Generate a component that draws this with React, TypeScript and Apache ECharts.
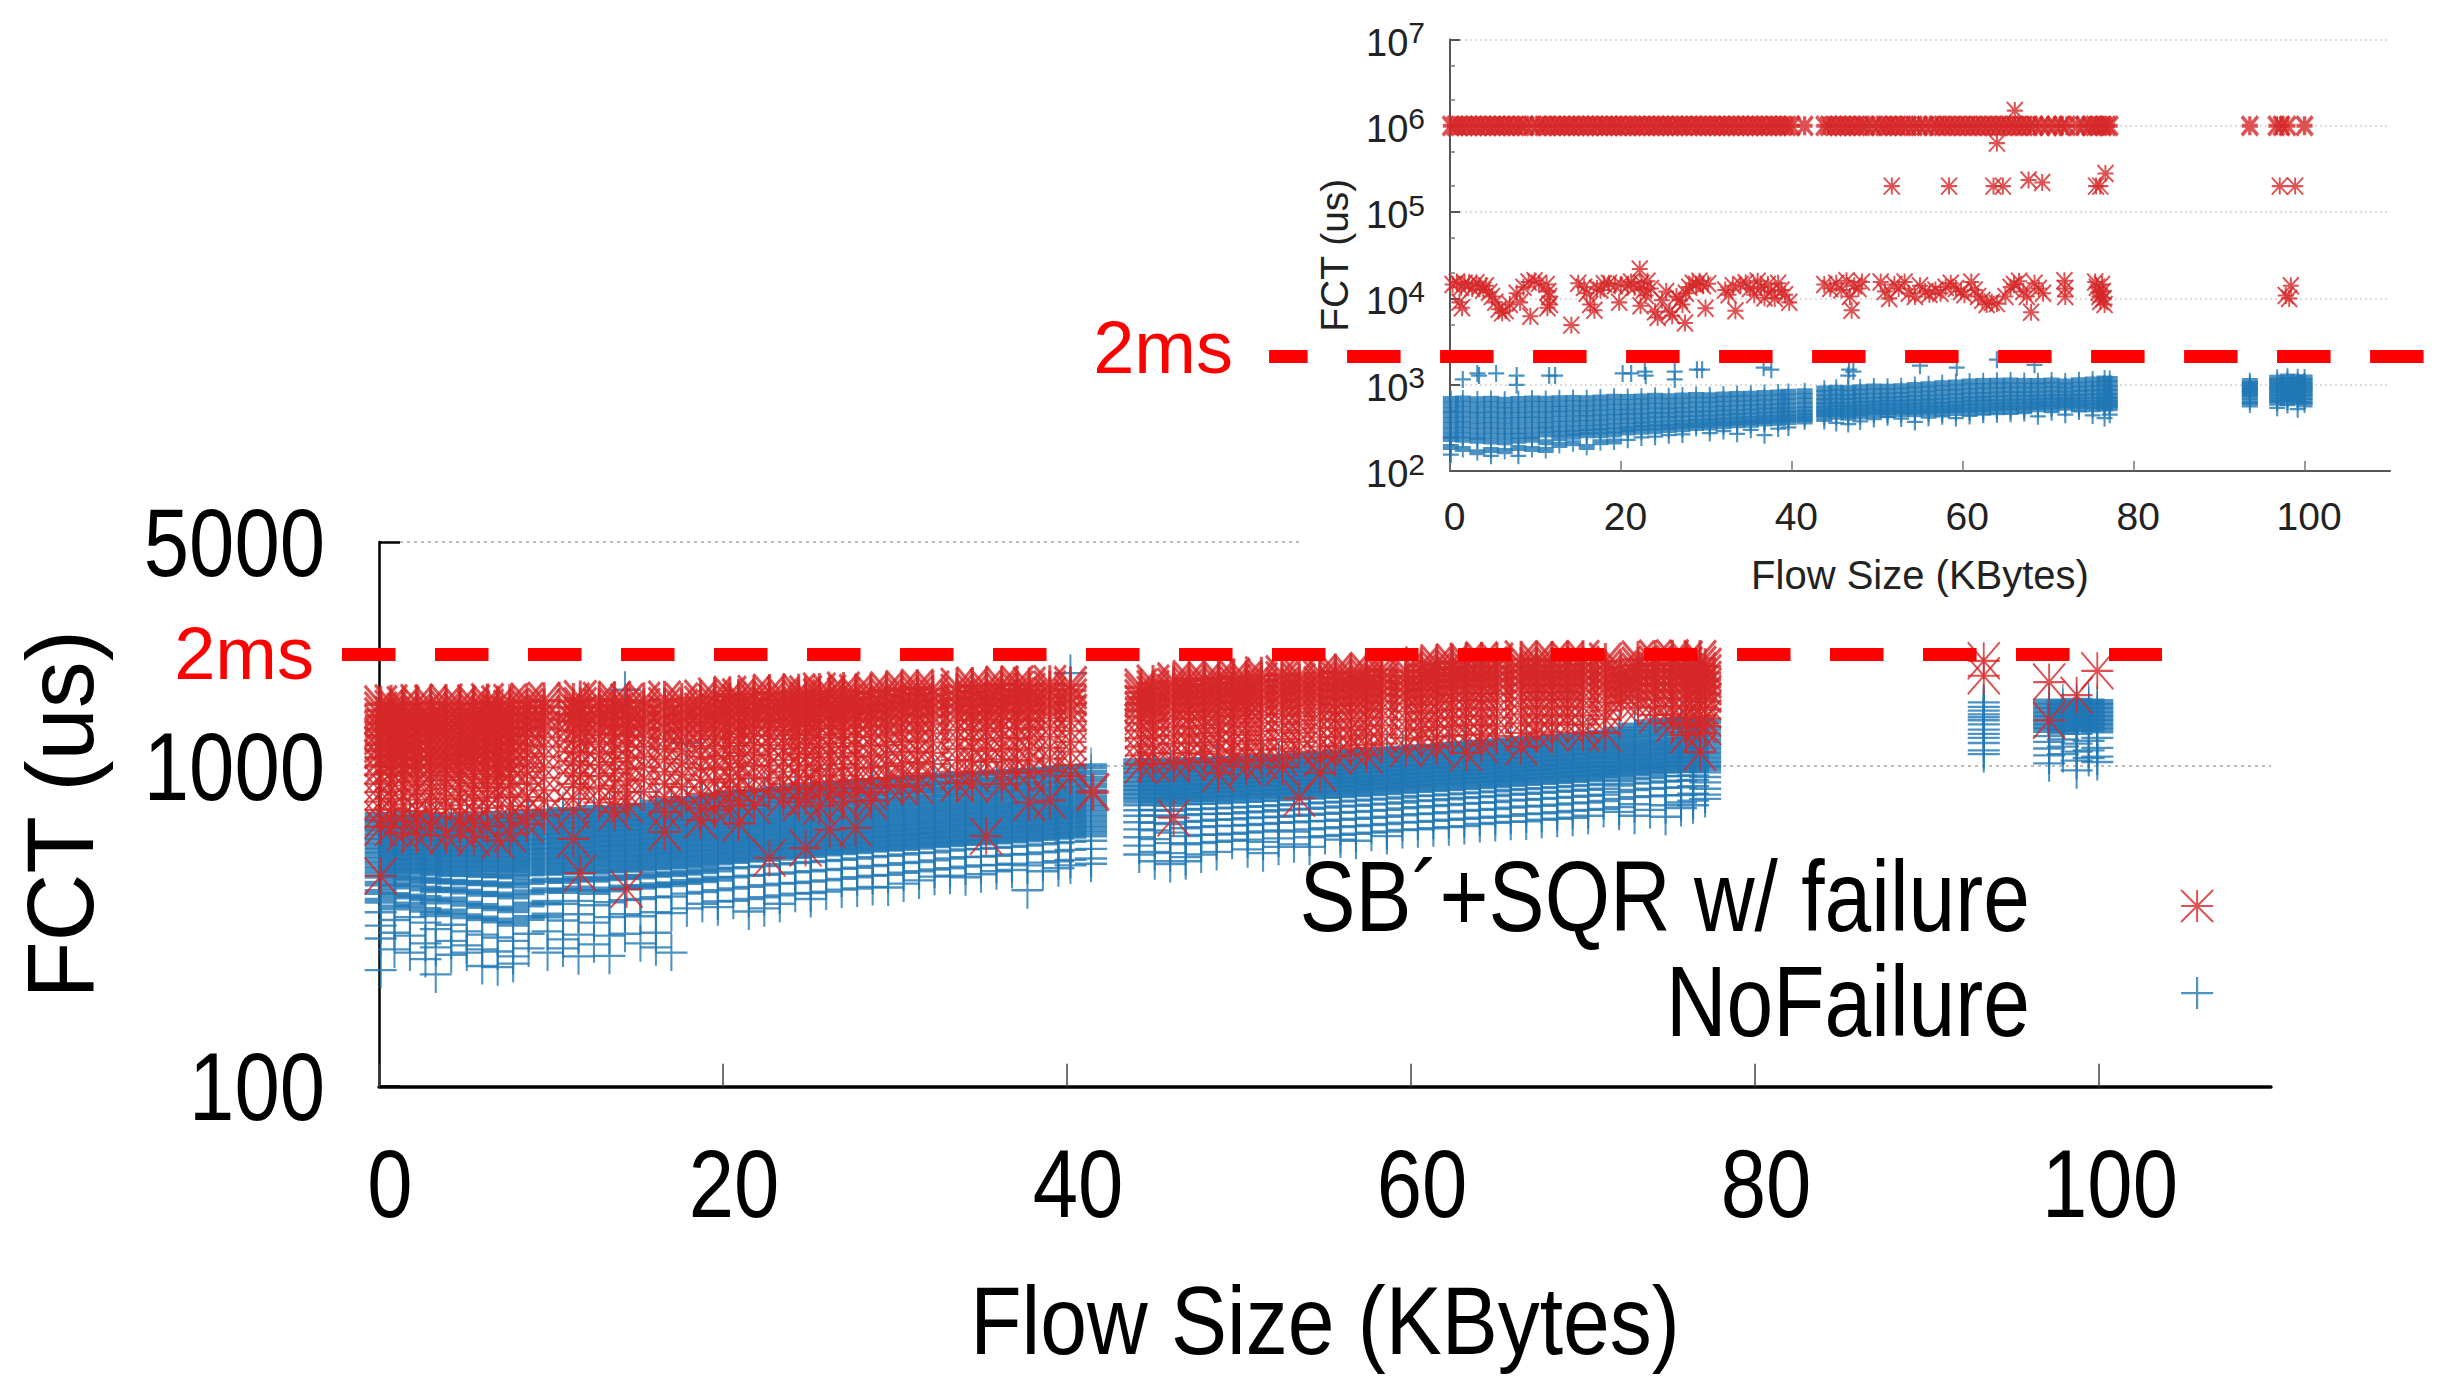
import React, { useEffect, useRef } from "react";
import * as echarts from "echarts";

const RED = "#d62728";
const BLUE = "#1f77b4";
const SANS = "'Liberation Sans',sans-serif";
const STAR = "path://M0 0L100 100M100 0L0 100M0 50H100M50 0V100";
const CROSS = "path://M0 50H100M50 0V100";
const CROSS_BAR = "path://M0 42H100V58H0ZM48 0H52V100H48Z";
const CROSS_BAR_INSET = "path://M0 32H100V68H0ZM44 0H56V100H44Z";

const xTicks = [0, 20, 40, 60, 80, 100];
const mainYTicks = [100, 1000, 5000];
const insetYTicks = [100, 1000, 10000, 100000, 1000000, 10000000];
const insetMinorTicks = [200, 500, 2000, 5000, 20000, 50000, 200000, 500000, 2000000, 5000000];
const failureName = "SB´+SQR w/ failure";
const noFailureName = "NoFailure";
const thresholdLabel = "2ms";
const mainThreshold = { fromX: -2.15, toX: 103.66, value: 2227 };
const insetThreshold = { fromX: -21.17, toX: 114.4, value: 2122 };

// Main plot, NoFailure: each row is [flow size, FCT, FCT, ...]
const noFailureLeft = [
  [0.1,705,680,662,640,622,601,583,562,545,528,510,492,474,455,430,405,380,350,318,290,231],
  [0.9,690,668,650,629,610,590,572,553,536,518,500,483,466,447,421,396,362,331,302,268],
  [1.8,712,684,661,645,618,597,579,560,540,522,505,487,470,449,428,392,370,338,296,262],
  [2.7,695,672,655,633,614,594,575,556,539,520,503,485,468,442,415,388,356,325,280,250],
  [3.3,700,678,657,636,616,596,577,558,537,519,499,481,463,438,410,378,345,310,272,224],
  [4.2,688,666,648,627,608,589,570,551,533,515,497,478,460,436,412,384,352,320,285,258],
  [5.1,702,676,654,631,612,592,574,555,535,517,498,480,461,433,406,372,340,305,276,262],
  [6.0,692,670,651,630,609,591,571,552,534,514,496,477,457,431,400,366,335,298,268,238],
  [6.9,710,682,660,638,617,595,576,557,538,516,495,476,456,428,398,360,330,292,264,236],
  [7.8,698,675,653,632,611,590,573,554,532,513,494,474,452,424,392,355,322,285,255,242],
  [8.7,716,688,664,642,620,598,580,560,541,521,502,482,462,435,404,370,336,300,270],
  [9.8,722,696,670,648,625,603,584,563,544,524,504,484,465,440,410,375,342,305,262],
  [10.7,730,702,676,652,630,607,587,566,546,526,506,486,466,438,408,372,330,288,270],
  [11.6,726,700,678,655,632,609,590,568,548,528,508,488,470,445,415,380,345,298,255],
  [12.5,740,712,686,660,637,614,593,572,551,531,511,490,468,442,405,368,325,278],
  [13.4,735,708,684,662,639,616,595,574,553,533,513,492,472,447,412,376,338,296,256],
  [14.3,748,716,690,666,642,620,598,576,556,535,515,495,475,450,418,382,345,300,1730],
  [15.2,752,722,694,670,646,623,601,579,559,538,518,498,478,452,420,385,340,280],
  [16.1,770,738,708,680,655,630,607,585,564,543,523,503,483,458,425,390,350,302,272],
  [17.0,778,746,716,688,662,637,613,590,568,547,527,507,486,460,428,392,348,262],
  [17.9,790,756,724,694,668,642,618,595,572,551,530,510,490,465,435,400,360,1180],
  [18.8,800,766,732,702,674,648,623,599,577,555,534,514,494,470,440,405,372],
  [19.7,812,778,742,710,682,655,630,605,582,560,540,520,500,476,445,410,378,363],
  [20.6,825,788,752,720,690,662,636,611,588,566,546,526,506,480,450,415,380],
  [21.5,832,796,760,726,696,668,642,616,593,570,550,530,510,484,455,420,385,352],
  [22.4,840,802,766,732,702,674,648,622,598,576,555,534,514,488,458,425,390,360],
  [23.3,850,812,776,740,710,680,654,628,604,581,560,540,518,494,462,430,395,372],
  [24.2,858,820,782,748,716,686,659,633,609,586,565,545,524,498,466,432,400],
  [25.1,866,826,788,752,720,690,663,637,613,590,570,550,528,502,470,436,402,385],
  [26.0,875,835,796,760,728,698,670,644,620,596,575,555,534,506,474,440,406],
  [26.9,882,842,802,766,732,702,675,648,624,600,578,558,538,510,478,445,412],
  [27.8,890,848,808,772,738,708,680,654,629,605,583,562,542,515,482,450,415],
  [28.7,898,856,816,778,745,714,686,660,635,611,590,570,548,520,488,455,420],
  [29.6,905,862,822,784,750,720,692,665,640,616,595,574,552,525,492,458,418],
  [30.5,915,870,830,792,758,726,698,670,645,620,600,578,555,530,498,465,430],
  [31.4,920,876,836,798,764,732,703,676,650,626,605,582,560,535,502,470,440],
  [32.3,928,884,842,804,770,738,710,682,656,632,610,588,566,538,508,476,452],
  [33.2,935,890,850,812,776,745,715,688,662,636,615,592,570,545,515,480,455],
  [34.1,940,896,856,818,782,750,720,692,666,642,618,596,575,550,520,486,450],
  [35.0,948,904,862,824,788,756,726,698,672,648,622,600,578,552,522,490,460],
  [35.9,955,910,868,830,794,760,732,704,678,652,628,605,582,556,525,492,470],
  [36.8,960,915,874,836,800,766,736,708,682,657,632,610,586,560,530,496,474],
  [37.7,968,922,880,842,806,772,742,714,688,662,638,615,590,565,532,490,410],
  [38.6,975,930,888,848,812,778,748,720,694,668,644,620,596,570,538,500,470],
  [39.5,985,938,896,856,820,786,754,726,700,674,650,626,602,575,542,505,480],
  [40.2,992,945,902,862,826,792,760,732,706,680,655,630,606,580,548,510,490,1950],
  [41.4,1000,955,912,872,834,800,768,740,712,686,660,636,612,585,552,515,496],
];
const noFailureRight = [
  [44.2,1035,1000,968,938,908,880,855,830,806,780,755,728,700,668,635,600,565,530],
  [45.1,1040,1005,972,942,912,884,858,832,808,782,758,730,702,665,630,592,540,505],
  [46.0,1030,998,966,936,906,878,852,828,804,778,752,725,695,660,620,575,535,495],
  [46.9,1045,1010,976,945,916,888,862,835,810,785,760,732,704,670,640,605,570,520,505],
  [47.8,1040,1008,976,948,918,890,864,838,812,788,762,735,708,675,645,610,575,530],
  [48.7,1050,1015,982,950,922,894,868,842,816,790,765,738,710,680,650,612,580,540],
  [49.6,1055,1020,988,956,926,898,872,845,820,795,770,742,712,682,652,615,585],
  [50.5,1062,1026,992,960,930,902,876,850,825,800,774,746,718,688,655,620,590,550],
  [51.4,1060,1030,996,964,934,906,880,854,828,804,778,750,722,692,660,625,580,535],
  [52.3,1070,1034,1000,968,938,910,884,858,832,808,782,755,728,695,665,630,595,560],
  [53.2,1078,1040,1006,974,944,916,890,864,838,812,788,760,732,700,668,625,570],
  [54.1,1085,1048,1012,980,950,920,894,868,842,816,792,765,736,705,672,635,600,560],
  [55.0,1095,1056,1020,986,955,926,898,872,846,820,796,770,742,710,675,640,605],
  [55.9,1102,1062,1026,992,960,930,902,876,850,825,800,775,748,715,680,645,610,590],
  [56.8,1110,1070,1032,998,966,936,908,882,856,830,806,780,752,720,685,650,615,585],
  [57.7,1118,1078,1040,1006,974,944,916,890,864,838,812,786,758,725,690,655,620],
  [58.6,1125,1084,1046,1012,980,950,922,896,870,844,818,792,764,730,695,660,625,605],
  [59.5,1135,1092,1054,1018,986,956,928,902,876,850,824,798,770,738,702,666,632],
  [60.4,1145,1102,1062,1026,994,964,936,910,884,858,832,806,778,744,708,670,635],
  [61.3,1150,1108,1070,1034,1000,970,942,914,888,862,836,810,782,750,712,675,640],
  [62.2,1165,1120,1080,1042,1008,976,948,920,894,868,842,816,788,756,718,680,645],
  [63.1,1175,1130,1088,1050,1016,984,954,926,900,874,848,822,795,762,725,685,650],
  [64.0,1185,1140,1096,1058,1022,990,960,932,906,880,854,828,800,768,730,690,660],
  [64.9,1195,1148,1104,1066,1030,996,966,938,912,886,860,834,806,772,735,695,665],
  [65.8,1205,1158,1114,1074,1038,1004,974,946,920,894,868,842,814,780,742,700,670],
  [66.7,1215,1166,1122,1082,1046,1012,980,952,926,900,874,848,820,785,748,708,672],
  [67.6,1222,1174,1130,1090,1052,1018,988,960,932,906,880,854,826,790,752,712,680],
  [68.5,1235,1184,1138,1098,1060,1026,995,966,938,912,886,860,832,796,758,718,685],
  [69.4,1246,1194,1148,1106,1068,1034,1002,972,944,918,892,866,838,802,765,725,690],
  [70.3,1258,1204,1158,1114,1076,1040,1008,978,950,924,898,872,844,808,770,730,700],
  [71.2,1270,1216,1168,1124,1084,1048,1016,986,958,932,906,880,850,815,778,735],
  [72.1,1300,1245,1195,1150,1108,1070,1036,1005,976,950,924,898,870,830,790,745,720],
  [73.0,1340,1280,1225,1175,1130,1090,1055,1020,990,962,936,910,882,842,800,760,700],
  [73.9,1370,1305,1245,1190,1145,1105,1068,1032,1000,972,945,918,888,850,805,730],
  [74.8,1385,1320,1260,1205,1158,1116,1078,1042,1010,982,955,930,895,855,810,755,695],
  [75.7,1390,1325,1265,1210,1162,1120,1082,1048,1015,985,958,932,900,858,812,770,740],
  [76.4,1395,1330,1270,1215,1165,1124,1086,1050,1018,988,960,935,905,865,820,780,755],
  [77.1,1380,1315,1258,1205,1160,1118,1080,1044,1012,984,956,925,890,850,815,790],
];
const noFailureEndA = [
  [93.3,1580,1530,1490,1450,1420,1390,1350,1300,1260,1225,1180,1120,1090],
];
const noFailureEndB = [
  [97.1,1590,1540,1495,1450,1410,1370,1330,1295,1240,1190,1135,1080,1020],
  [97.9,1580,1530,1480,1440,1400,1360,1320,1280,1210,1150,1090],
  [98.7,1600,1560,1510,1470,1425,1385,1345,1305,1260,1175,1110,1040,970],
  [99.4,1590,1545,1500,1460,1415,1375,1335,1300,1200,1120,1060],
  [99.9,1585,1540,1495,1450,1410,1370,1330,1290,1225,1140,1070,1030],
];

// Main plot, SB´+SQR w/ failure
const failureLeft = [
  [0.1,1560,1490,1430,1360,1300,1240,1170,1120,1060,1000,940,880,830,775,730,680,645,454],
  [0.7,1570,1510,1445,1390,1320,1260,1200,1135,1075,1010,955,900,845,790,735,645],
  [1.4,1550,1480,1420,1355,1295,1230,1165,1105,1050,990,930,870,815,760,700,620],
  [2.2,1575,1500,1440,1375,1310,1250,1190,1130,1065,1005,950,895,840,785,725,670,610],
  [3.0,1565,1495,1425,1365,1305,1245,1180,1115,1055,995,935,875,820,770,715,640],
  [3.9,1580,1515,1450,1385,1325,1265,1205,1140,1080,1020,960,905,850,790,735,608],
  [4.7,1555,1485,1415,1350,1290,1225,1160,1100,1045,985,925,865,810,755,690,630],
  [5.5,1570,1505,1435,1370,1315,1255,1195,1125,1070,1015,945,885,835,780,720,665,600],
  [6.3,1585,1520,1455,1395,1330,1270,1210,1150,1090,1030,965,910,855,795,740,650],
  [6.9,1560,1490,1420,1360,1300,1235,1175,1110,1050,990,925,860,800,588],
  [7.6,1575,1510,1445,1380,1315,1250,1185,1125,1060,1000,940,880,815,750,690,615],
  [8.6,1590,1525,1460,1390,1320,1240,1160,1095,1020,960,880,800,730,660],
  [9.6,1600,1530,1465,1400,1310,1230,1150,1070,990,920,840,780,700],
  [11.3,1590,1520,1450,1380,1290,1200,1110,1035,950,880,790,730,593],
  [11.7,1620,1540,1460,1370,1280,1190,1100,1010,930,860,464],
  [12.8,1600,1530,1470,1400,1320,1250,1170,1090,1010,930,850,770],
  [13.7,1610,1545,1475,1410,1340,1260,1185,1105,1030,950,870,790,720],
  [14.4,1580,1500,1420,1330,1240,1150,1060,980,900,830,760,413],
  [15.4,1600,1530,1460,1390,1310,1230,1150,1070,990,910,830],
  [16.6,1615,1540,1465,1385,1305,1215,1130,1050,960,880,800,720,623],
  [17.6,1590,1520,1440,1360,1280,1195,1110,1020,940,860,775],
  [18.7,1625,1555,1480,1405,1320,1240,1155,1070,985,905,820,740,678],
  [19.5,1650,1580,1510,1440,1365,1290,1215,1135,1055,975,890,810,730],
  [20.4,1670,1600,1530,1460,1385,1310,1230,1155,1075,990,910,830,750],
  [20.9,1640,1570,1500,1420,1340,1260,1180,1100,1020,940,860,780,663],
  [21.8,1680,1610,1535,1465,1390,1315,1240,1160,1080,1000,915,835,755],
  [22.7,1695,1620,1550,1475,1400,1320,1245,1165,1085,1005,920,840,517],
  [23.5,1665,1595,1525,1450,1375,1295,1215,1130,1045,960,880,795],
  [24.4,1700,1630,1555,1480,1405,1330,1250,1170,1090,1005,925,845,770],
  [24.8,1675,1600,1530,1455,1380,1300,1220,1140,1060,970,885,800,555],
  [25.6,1710,1640,1565,1490,1410,1335,1255,1175,1095,1010,930,850,750],
  [26.2,1685,1610,1535,1460,1385,1305,1225,1145,1065,980,895,810,633],
  [27.0,1720,1650,1575,1500,1420,1340,1260,1180,1100,1015,935,855,775],
  [27.7,1690,1620,1545,1470,1390,1310,1230,1150,1070,985,905,825,641],
  [28.6,1700,1630,1560,1480,1400,1320,1235,1155,1070,990,910,830,780],
  [29.5,1725,1650,1575,1495,1415,1335,1250,1165,1085,1000,920,874],
  [30.4,1740,1670,1595,1520,1440,1355,1270,1190,1105,1020,935,860],
  [31.3,1755,1685,1610,1530,1450,1370,1285,1200,1110,1030,950,870],
  [32.2,1735,1665,1590,1515,1430,1350,1265,1185,1100,1015,930],
  [33.6,1770,1695,1620,1545,1465,1380,1295,1210,1130,1045,960,886],
  [34.5,1785,1710,1635,1555,1475,1390,1300,1215,1135,1040,950,880],
  [35.3,1760,1685,1615,1535,1455,1370,1285,1200,1115,1030,604],
  [36.2,1795,1720,1640,1560,1480,1395,1310,1220,1130,1050,960,880],
  [37.1,1800,1730,1650,1570,1490,1400,1315,1225,1135,1045,955],
  [37.8,1780,1705,1625,1545,1470,1385,1300,1210,1120,1035,950,770],
  [39.0,1805,1735,1660,1575,1495,1410,1320,1235,1140,1055,965,782],
  [40.2,1790,1720,1640,1560,1470,1380,1285,1190,1110,1010,930],
  [41.5,830],
];
const failureRight = [
  [44.3,1760,1700,1630,1565,1490,1425,1360,1290,1220,1150,1080,1010],
  [45.0,1810,1740,1670,1600,1525,1450,1385,1310,1240,1170,1100,1020],
  [46.2,1840,1770,1690,1620,1545,1470,1400,1320,1245,1175,1095,1015,690],
  [47.1,1870,1795,1720,1640,1565,1490,1415,1335,1260,1180,1100,1030],
  [48.0,1850,1775,1700,1625,1550,1475,1395,1315,1240,1160,1090],
  [48.8,1880,1810,1730,1655,1580,1500,1425,1345,1270,1190,1110,1030,950],
  [49.7,1900,1820,1745,1670,1590,1510,1435,1360,1280,1200,1125,1045],
  [50.4,1870,1795,1720,1640,1560,1485,1405,1325,1250,1170,1090,995],
  [51.3,1920,1845,1765,1685,1600,1520,1445,1365,1285,1205,1125,1040],
  [52.5,1935,1855,1775,1695,1615,1535,1455,1375,1295,1215,1135,1060,995],
  [53.5,1905,1830,1750,1670,1590,1510,1430,1350,1270,1190,1110,794],
  [54.7,1950,1870,1790,1710,1630,1550,1470,1390,1310,1230,1150,1060,953],
  [55.6,1965,1885,1805,1725,1645,1565,1480,1400,1315,1235,1155,1075],
  [56.5,1940,1860,1785,1705,1625,1540,1460,1380,1300,1220,1140],
  [57.4,1980,1900,1820,1740,1655,1575,1490,1410,1330,1245,1165,1085],
  [58.3,2000,1920,1835,1750,1670,1590,1505,1420,1340,1255,1175],
  [59.7,1975,1895,1815,1730,1650,1565,1480,1395,1310,1225,1135],
  [60.6,2060,1975,1890,1805,1720,1635,1550,1465,1380,1295,1210],
  [61.5,2095,2010,1925,1840,1750,1665,1580,1490,1405,1320,1235,1150],
  [62.4,2110,2025,1940,1850,1765,1680,1590,1500,1415,1330,1240],
  [63.2,2120,2035,1945,1860,1770,1685,1600,1510,1425,1340,1250,1100],
  [64.1,2140,2050,1960,1875,1785,1695,1610,1520,1435,1345,1260,1170],
  [65.0,2120,2035,1945,1855,1770,1680,1590,1500,1415,1330,1240],
  [66.4,2155,2065,1975,1885,1800,1710,1625,1535,1450,1360,1270,1150],
  [67.3,2130,2040,1955,1865,1780,1690,1605,1515,1430,1340,1255],
  [68.2,2150,2060,1970,1885,1795,1710,1620,1535,1445,1360,1275],
  [69.1,2140,2050,1960,1870,1785,1695,1610,1520,1430,1345],
  [70.0,2160,2070,1980,1890,1800,1710,1620,1530,1440,1350,1270],
  [71.3,2120,2030,1940,1850,1760,1670,1580,1490,1400,1270],
  [72.2,2000,1910,1830,1740,1650,1570],
  [73.2,2150,2060,1970,1880,1790,1700,1610,1520],
  [74.2,2165,2075,1985,1895,1800,1710,1625,1535,1445],
  [75.2,2170,2080,1990,1900,1810,1720,1630,1540,1450,1360],
  [76.0,2150,2060,1970,1880,1790,1700,1610,1520,1430,1340,1250],
  [76.8,2160,2070,1980,1890,1800,1710,1620,1530,1440,1350,1270,1105],
  [77.1,2040,1950,1860,1770,1680,1590,1500,1410,1330],
];
const failureEnd = [
  [93.3,2130,1914],
  [97.1,1828,1390],
  [98.7,1664],
  [99.9,1982],
];

// Inset, NoFailure
const insetBlueBand = [
  [0.1,680,590,510,450,390,340,295,255,235,190,155],
  [1.5,690,600,520,455,395,345,300,260,230,180],
  [3.2,675,585,505,445,385,335,290,250,225,165],
  [4.8,685,595,515,450,390,340,295,255,220,175,150],
  [6.4,670,580,505,440,385,335,290,250,215,170],
  [8.0,680,590,510,445,390,335,290,255,225,185,150],
  [9.6,690,600,515,450,395,340,295,255,230,180],
  [11.2,685,595,515,450,390,340,300,265,215,175],
  [12.8,695,600,525,460,400,350,305,270,240,200],
  [14.4,700,610,530,465,405,355,310,275,250,210],
  [16.0,695,605,530,465,410,360,315,285,260,190],
  [17.6,710,620,540,475,415,365,320,290,260,215],
  [19.2,725,630,550,480,425,375,330,295,265,220],
  [20.8,720,630,550,485,430,380,335,305,280,230],
  [22.4,730,640,560,490,435,385,345,315,285,245],
  [24.0,745,650,570,500,445,395,350,320,290,250],
  [25.6,735,645,565,500,445,400,355,325,300,260],
  [27.2,750,655,575,510,455,405,360,335,305,265],
  [28.8,760,665,585,515,460,410,370,340,315],
  [30.4,755,665,590,520,465,415,375,345,320,275],
  [32.0,770,680,600,530,475,425,385,355,330,290],
  [33.6,780,690,610,540,480,435,395,365,340,270],
  [35.2,785,695,615,545,490,440,400,370,345,300],
  [36.8,800,705,625,555,500,450,410,380,355,260],
  [38.4,810,715,630,560,505,455,415,385,360,310],
  [39.6,825,725,640,570,510,465,425,395,370,320],
  [41.5,840,740,655,580,520,475,435,400,375],
  [43.8,900,800,710,640,580,530,490,455,420,380],
  [45.2,920,815,725,650,590,540,495,460,425,360],
  [46.6,910,810,720,645,585,535,490,450,415,350],
  [48.0,930,825,735,660,600,550,505,465,430,375],
  [49.6,950,840,745,670,610,560,515,480,445,400],
  [51.2,945,840,750,675,615,565,520,485,450,420],
  [52.8,960,850,760,680,620,570,525,490,455,405],
  [54.4,990,875,775,695,630,575,530,490,455,370],
  [56.0,1010,890,790,705,640,585,535,495,460,415],
  [57.6,1040,915,810,720,650,590,540,500,465,430],
  [59.2,1060,930,825,735,660,600,550,510,470,410],
  [60.8,1090,955,845,750,675,615,560,515,475,435],
  [62.4,1100,965,855,760,685,625,570,525,485,450],
  [64.0,1110,975,865,770,695,630,580,535,495,455],
  [65.6,1115,985,870,780,700,640,585,540,500,460],
  [67.2,1105,980,870,780,705,645,590,545,510,470],
  [68.8,1100,980,875,785,710,650,600,555,520,430],
  [70.4,1120,995,885,795,720,660,605,560,530,480],
  [72.0,1090,975,875,790,720,665,615,575,540,450],
  [73.6,1125,1000,895,805,730,670,615,570,530,490],
  [75.2,1150,1020,905,815,735,670,615,565,520,440],
  [76.6,1180,1040,920,825,745,680,620,570,530,410],
  [77.2,1165,1030,915,820,740,675,620,575,535,450],
  [93.6,1100,1020,950,890,830,780,730,640,590],
  [96.8,1200,1100,1010,930,860,790,730,670,620,540],
  [98.0,1240,1130,1040,950,880,810,750,690,640,580],
  [99.2,1220,1110,1020,940,870,800,740,680,630,520],
  [100,1210,1100,1010,930,860,790,720,650,590],
];
const insetBlueOutliers = [
  [1.5,1152],[3.2,1350],[5.4,1350],[3.4,1275],[7.8,1275],[7.8,995],[11.6,1275],[12.3,1275],
  [20.2,1350],[21.2,1350],[22.8,1420],[22.9,1275],[26.3,1420],[26.3,1152],[28.9,1495],[29.5,1495],
  [36.7,1575],[37.6,1495],[46.7,1495],[47.2,1420],[46.6,1275],[55,1660],[59.3,1575],[64,1950],[68.4,1700],
];

// Inset, SB´+SQR w/ failure
const insetTimeoutX = [
  0.1,0.6,1.1,1.7,2.2,2.8,3.3,3.9,4.4,5,5.5,6.1,6.6,7.2,7.7,8.3,8.8,9.6,10.3,10.9,11.4,12,12.6,13.1,13.7,14.2,14.8,15.3,15.9,16.4,17,17.5,18.1,18.6,19.2,19.7,
  20.3,20.8,21.4,21.9,22.5,23,23.6,24.1,24.7,25.2,25.8,26.3,26.9,27.4,28,28.5,29.1,29.6,30.2,30.7,31.3,31.8,32.4,32.9,33.5,34,34.6,35.1,35.7,36.2,36.8,37.3,37.9,38.4,39,39.5,40,41.5,
  43.8,44.3,44.9,45.4,46,46.5,47.1,47.6,48.2,48.7,49.5,50.2,50.8,51.3,51.9,52.4,53,53.6,54.3,54.9,55.6,56.4,57,57.6,58.2,58.8,59.4,60,60.6,61.2,61.8,62.4,63,63.6,64.2,64.8,65.4,66,66.6,67.2,67.8,68.4,69.2,70,70.8,71.6,72.2,73.4,74.2,74.9,75.4,75.9,76.4,76.9,77.2,
  93.6,96.7,97.3,98,100,
];
const insetTimeoutValue = 1000000;
const insetRedOutliers = [
  [66.1,1500000],[64,630000],
  [51.7,200000],[58.4,200000],[63.6,200000],[64.7,200000],[67.7,235000],[69.3,220000],[75.6,200000],[76.1,200000],[76.7,280000],[97.1,200000],[98.9,200000],
  [0.3,14500],[0.8,15500],[1.3,13500],[1.7,15000],[2.2,14500],[2.6,13000],[3.1,15200],[3.5,13800],[3.9,12500],[4.2,14000],[1.1,9000],[1.4,7800],[4.6,11800],[4.9,10500],[5.3,9000],[5.7,7500],[6.1,6800],[6.5,7200],[7.0,8500],[7.8,11500],[8.2,9000],[8.6,13500],[9.2,15500],[9.9,16000],[10.4,15000],[9.4,6200],
  [11.3,14500],[11.5,12000],[11.6,10500],[11.7,8500],[11.4,7800],[14.2,4900],[15,15000],[15.7,13500],[16,11500],[16.4,8500],[16.9,7300],[17.2,13000],[17.6,12500],[18,14800],[18.6,15000],[19.3,14000],[20,14500],[19.8,9000],
  [20.8,14000],[21.2,15500],[21.6,13500],[22.2,21900],[22.4,15000],[22.7,12500],[22.9,10800],[22.3,8200],[23.1,15800],[23.5,13000],[24,7000],[24.3,6000],[24.8,9500],[25.3,12000],[25.7,7000],[26,6300],[26.5,10500],[26.9,9500],[27.2,8500],[27.5,5200],[27.6,11500],[28,13500],[28.4,15000],[28.8,14500],[29.2,15800],[29.6,14000],[29.9,7700],[30.2,14800],
  [32.2,12500],[32.6,11000],[33.1,14000],[33.4,7200],[34,14500],[34.6,15200],[35.1,13000],[35.6,11000],[36,15800],[36.4,13500],[36.8,10200],[37.2,14500],[37.6,12000],[38,10000],[38.4,15000],[38.8,12500],[39.2,11000],[39.7,9000],
  [43.8,14500],[44.5,13000],[45.2,15000],[45.8,12500],[46.4,16000],[46.8,10500],[47,7300],[47.3,14000],[47.8,13000],[48.2,15500],
  [50.4,15500],[50.9,12000],[51.4,10000],[52,14500],[52.5,13000],[53.2,15500],[53.7,11500],[54.4,10500],[55,14000],[55.6,12000],[56.1,11200],[56.8,12500],[57.4,11500],[58,13500],[58.6,15000],[59.2,13000],[59.8,12000],[60.2,11000],
  [61,15500],[61.4,12500],[61.8,10500],[62.3,9500],[62.8,8500],[63.4,9000],[64,8700],[65,10500],[65.6,13500],[66,14500],[66.6,15800],[67.1,12000],[67.5,10500],[68,6900],[68.4,15000],[68.9,13000],[69.4,11500],
  [71.9,16000],[72,13000],[72,10500],[75.5,15500],[75.7,13500],[75.9,11800],[76,10500],[76.1,9200],[76.3,14500],[76.4,12000],[76.5,10000],[76.6,8500],
  [98.4,14000],[97.8,10800],[98.2,10000],
];

// rows -> points, split by how many readings of a row belong to the solid band
type Count = (x: number) => number;
const solidPart = (rows: number[][], n: Count) => rows.flatMap((r) => r.slice(1, 1 + n(r[0])).map((v) => [r[0], v]));
const restPart = (rows: number[][], n: Count) => rows.flatMap((r) => r.slice(1 + n(r[0])).map((v) => [r[0], v]));

const blueMainCount: Count = (x) => (x < 10 ? 17 : x < 20 ? 15 : x < 42 ? 13 : x < 90 ? 10 : 8);
const blueInsetCount: Count = (x) => (x < 20 ? 10 : 9);
const redMainCount: Count = (x) => (x < 8.5 ? 10 : 5);
const none: Count = () => 0;

const thinStar = { color: "transparent", borderColor: RED, borderWidth: 2 };
const thickStar = { color: "transparent", borderColor: RED, borderWidth: 3.2 };
const insetBandStar = { color: "transparent", borderColor: RED, borderWidth: 3.6 };
const thinCross = { color: "transparent", borderColor: BLUE, borderWidth: 2.2 };
const solidCross = { color: BLUE, borderWidth: 0 };

const scatter = (name: string, grid: number, symbol: string, size: number[], itemStyle: object, data: number[][]) => ({
  name,
  type: "scatter",
  xAxisIndex: grid,
  yAxisIndex: grid,
  clip: false,
  symbol,
  symbolSize: size,
  itemStyle,
  data,
});

export default function App() {
  const ref = useRef<HTMLDivElement>(null);
  useEffect(() => {
    document.body.style.margin = "0";
    const chart = echarts.init(ref.current!, null, { renderer: "svg" });
    const axisBase = { type: "value", min: 0, max: 110 };
    const mainSize = [32, 37];
    const insetSize = [16, 17];
    chart.setOption({
      animation: false,
      backgroundColor: "#fff",
      grid: [
        { left: 379, top: 542, width: 1892, height: 544.7, outerBoundsMode: "none" },
        { left: 1450, top: 39.5, width: 940, height: 431.5, outerBoundsMode: "none" },
      ],
      legend: {
        left: 2175,
        top: 884,
        orient: "vertical",
        itemWidth: 32,
        itemHeight: 37,
        itemGap: 53,
        selectedMode: false,
        formatter: () => "",
        textStyle: { fontSize: 10, lineHeight: 10 },
        data: [
          { name: failureName, icon: STAR, itemStyle: thinStar },
          { name: noFailureName, icon: CROSS, itemStyle: thinCross },
        ],
      },
      xAxis: [
        {
          ...axisBase,
          gridIndex: 0,
          axisLine: { lineStyle: { color: "#000", width: 3.5 } },
          axisTick: { inside: true, length: 23, customValues: xTicks, lineStyle: { color: "#444", width: 1.5 } },
          axisLabel: { show: false },
          splitLine: { show: false },
        },
        {
          ...axisBase,
          gridIndex: 1,
          name: "Flow Size (KBytes)",
          nameLocation: "middle",
          nameGap: 84,
          nameTextStyle: { fontFamily: SANS, fontSize: 40, color: "#222" },
          axisLine: { lineStyle: { color: "#555", width: 2 } },
          axisTick: { inside: true, length: 10, customValues: xTicks, lineStyle: { color: "#777", width: 1.5 } },
          axisLabel: { customValues: xTicks, margin: 26, padding: [0, 0, 0, 9], fontFamily: SANS, fontSize: 39, color: "#222" },
          splitLine: { show: false },
        },
      ],
      yAxis: [
        {
          type: "log",
          logBase: 10,
          min: 100,
          max: 5000,
          gridIndex: 0,
          name: "FCT (us)",
          nameLocation: "middle",
          nameGap: 272,
          nameTextStyle: { fontFamily: SANS, fontSize: 94, color: "#000" },
          axisLine: { show: true, lineStyle: { color: "#000", width: 2.5 } },
          axisTick: { inside: true, length: 21, customValues: mainYTicks, lineStyle: { color: "#000", width: 2.5 } },
          axisLabel: { show: false },
          splitLine: { show: true, lineStyle: { color: "#bbb", width: 2, type: [3, 4] } },
          minorTick: { show: false },
        },
        {
          type: "log",
          logBase: 10,
          min: 100,
          max: 10000000,
          gridIndex: 1,
          name: "FCT (us)",
          nameLocation: "middle",
          nameGap: 96,
          nameTextStyle: { fontFamily: SANS, fontSize: 39, color: "#222" },
          axisLine: { show: true, lineStyle: { color: "#555", width: 2 } },
          axisTick: { inside: true, length: 10, customValues: insetYTicks, lineStyle: { color: "#555", width: 2 } },
          axisLabel: {
            customValues: insetYTicks,
            margin: 25,
            color: "#222",
            formatter: (v: number) => `{b|10}{s|${Math.round(Math.log10(v))}}`,
            rich: {
              b: { fontFamily: SANS, fontSize: 38, color: "#222", verticalAlign: "bottom", lineHeight: 44 },
              s: { fontFamily: SANS, fontSize: 30, color: "#222", verticalAlign: "top", lineHeight: 44 },
            },
          },
          splitLine: { show: true, lineStyle: { color: "#ddd", width: 2, type: [2, 3] } },
        },
        {
          type: "log",
          logBase: 10,
          min: 100,
          max: 10000000,
          gridIndex: 1,
          position: "left",
          axisLine: { show: false },
          axisLabel: { show: false },
          axisTick: { show: true, inside: true, length: 5, customValues: insetMinorTicks, lineStyle: { color: "#777", width: 1.5 } },
          splitLine: { show: false },
        },
      ],
      series: [
        scatter(noFailureName, 0, CROSS, mainSize, thinCross, [
          ...restPart(noFailureLeft, blueMainCount),
          ...restPart(noFailureRight, blueMainCount),
          ...restPart(noFailureEndA, none),
          ...restPart(noFailureEndB, blueMainCount),
        ]),
        scatter("NoFailure core", 0, CROSS_BAR, mainSize, solidCross, [
          ...solidPart(noFailureLeft, blueMainCount),
          ...solidPart(noFailureRight, blueMainCount),
          ...solidPart(noFailureEndB, blueMainCount),
        ]),
        scatter(failureName, 0, STAR, mainSize, thinStar, [
          ...restPart(failureLeft, redMainCount),
          ...restPart(failureRight, redMainCount),
          ...restPart(failureEnd, none),
        ]),
        scatter("failure core", 0, STAR, mainSize, thickStar, [
          ...solidPart(failureLeft, redMainCount),
          ...solidPart(failureRight, redMainCount),
        ]),
        scatter("inset NoFailure", 1, CROSS, insetSize, thinCross, [...restPart(insetBlueBand, blueInsetCount), ...insetBlueOutliers]),
        scatter("inset NoFailure core", 1, CROSS_BAR_INSET, insetSize, solidCross, solidPart(insetBlueBand, blueInsetCount)),
        scatter("inset failure", 1, STAR, insetSize, thinStar, insetRedOutliers),
        scatter("inset failure timeouts", 1, STAR, [16, 19], insetBandStar, insetTimeoutX.map((x) => [x, insetTimeoutValue])),
      ],
    });

    const px = (axis: string, index: number, v: number) => chart.convertToPixel({ [axis]: index } as any, v) as number;
    const bigText = (text: string, x: number, y: number, align: string, fontSize: number, scaleX: number, fill = "#000") => ({
      type: "text",
      z: 6,
      x,
      y,
      scaleX,
      style: { text, fontFamily: SANS, fontSize, fill, align, verticalAlign: "middle" },
    });
    const dash = (idx: number, t: { fromX: number; toX: number; value: number }, offset: number) => {
      const y = px("yAxisIndex", idx, t.value);
      return {
        type: "line",
        z: 5,
        silent: true,
        shape: { x1: px("xAxisIndex", idx, t.fromX), y1: y, x2: px("xAxisIndex", idx, t.toX), y2: y },
        style: { stroke: "#ff0000", lineWidth: 13, lineDash: [53.5, 39.5], lineDashOffset: offset },
      };
    };
    chart.setOption({
      graphic: [
        { type: "rect", z: 1, shape: { x: 1300, y: 535, width: 1141, height: 14 }, style: { fill: "#fff" } },
        dash(0, mainThreshold, 0),
        dash(1, insetThreshold, 14.5),
        bigText(thresholdLabel, 314, 653, "right", 74, 1, "#ff0000"),
        bigText(thresholdLabel, 1233, 347, "right", 74, 1, "#ff0000"),
        ...mainYTicks.map((v) => bigText(String(v), 325, px("yAxisIndex", 0, v), "right", 97, 0.84)),
        ...xTicks.map((v) => bigText(String(v), px("xAxisIndex", 0, v) + 11, 1183, "center", 97, 0.84)),
        bigText("Flow Size (KBytes)", 1325, 1320, "center", 96, 0.875),
        bigText(failureName, 2030, 896, "right", 100, 0.84),
        bigText(noFailureName, 2030, 1001, "right", 100, 0.84),
      ],
    });
    return () => chart.dispose();
  }, []);
  return <div ref={ref} style={{ position: "absolute", left: 0, top: 0, width: 2441, height: 1378 }} />;
}
